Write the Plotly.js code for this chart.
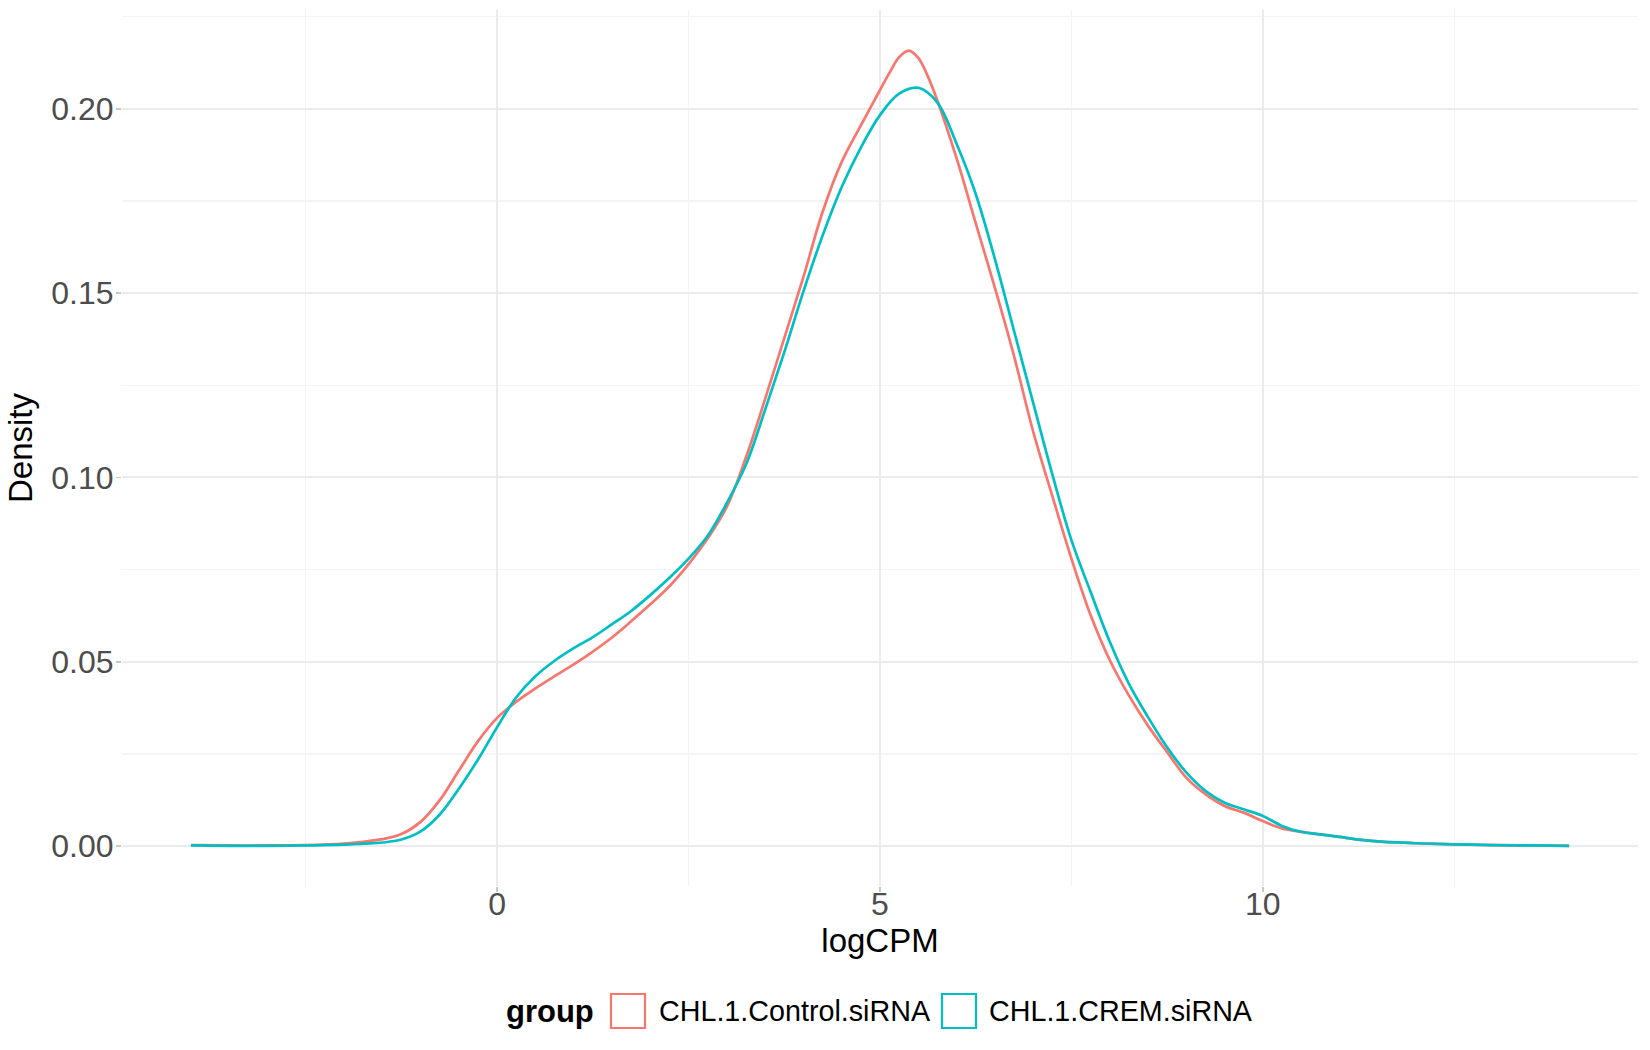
<!DOCTYPE html>
<html>
<head>
<meta charset="utf-8">
<script src="https://cdn.plot.ly/plotly-3.0.1.min.js"></script>
<style>
  body { margin: 0; background: #fff; }
  #chart { width: 1650px; height: 1050px; }
</style>
</head>
<body>
<div id="chart"></div>
<script>
/*** DATA ***/
// group names and the default ggplot hue pair
var groupNames = ['CHL.1.Control.siRNA', 'CHL.1.CREM.siRNA'];
var groupColors = ['#F8766D', '#00BFC4'];

// density of logCPM for the control group
var controlX = [-4.0, -3.5, -3.0, -2.5, -2.0, -1.75, -1.5, -1.25, -1.0, -0.75, -0.5, -0.25,
    0.0, 0.25, 0.5, 0.75, 1.0, 1.25, 1.5, 1.75, 2.0, 2.25, 2.5, 2.75, 3.0, 3.25, 3.5, 3.75,
    4.0, 4.25, 4.5, 4.75, 5.0, 5.125, 5.25, 5.375, 5.5, 5.625, 5.75, 6.0, 6.25, 6.5, 6.75, 7.0, 7.25, 7.5,
    7.75, 8.0, 8.25, 8.5, 8.75, 9.0, 9.25, 9.5, 9.75, 10.0, 10.25, 10.5, 10.75, 11.0, 11.25,
    11.5, 12.0, 12.5, 13.0, 13.5, 14.0];
var controlY = [0.0003, 0.0002, 0.0002, 0.0003, 0.0007, 0.0012, 0.0019, 0.0033, 0.0066, 0.0125, 0.0205, 0.0285,
    0.0348, 0.0392, 0.0428, 0.0461, 0.0493, 0.0528, 0.0566, 0.0610, 0.0656, 0.0705, 0.0765, 0.0835, 0.0921, 0.1055, 0.1213, 0.1378,
    0.1544, 0.1720, 0.1856, 0.1955, 0.2051, 0.2098, 0.2140, 0.2158, 0.2138, 0.2088, 0.2022, 0.1866, 0.1690, 0.1515, 0.1330, 0.1125, 0.0950, 0.0780,
    0.0627, 0.0505, 0.0409, 0.0327, 0.0255, 0.0186, 0.0141, 0.0109, 0.0091, 0.0068, 0.0048, 0.0039, 0.0032, 0.0025, 0.0018,
    0.0013, 0.0008, 0.0005, 0.0003, 0.0002, 0.0001];

// density of logCPM for the CREM knockdown group
var cremX = [-4.0, -3.5, -3.0, -2.5, -2.0, -1.75, -1.5, -1.25, -1.0, -0.75, -0.5, -0.25,
    0.0, 0.25, 0.5, 0.75, 1.0, 1.25, 1.5, 1.75, 2.0, 2.25, 2.5, 2.75, 3.0, 3.25, 3.5, 3.75,
    4.0, 4.25, 4.5, 4.75, 5.0, 5.25, 5.5, 5.75, 6.0, 6.25, 6.5, 6.75, 7.0, 7.25, 7.5,
    7.75, 8.0, 8.25, 8.5, 8.75, 9.0, 9.25, 9.5, 9.75, 10.0, 10.25, 10.5, 10.75, 11.0, 11.25,
    11.5, 12.0, 12.5, 13.0, 13.5, 14.0];
var cremY = [0.0002, 0.0001, 0.0001, 0.0002, 0.0004, 0.0007, 0.0010, 0.0018, 0.0040, 0.0086, 0.0156, 0.0235,
    0.0323, 0.0404, 0.0461, 0.0503, 0.0537, 0.0567, 0.0602, 0.0638, 0.0681, 0.0728, 0.0780, 0.0842, 0.0931, 0.1035, 0.1184, 0.1340,
    0.1505, 0.1656, 0.1788, 0.1895, 0.1983, 0.2041, 0.2057, 0.2017, 0.1905, 0.1769, 0.1593, 0.1398, 0.1203, 0.1009, 0.0830,
    0.0690, 0.0555, 0.0441, 0.0350, 0.0268, 0.0200, 0.0150, 0.0118, 0.0100, 0.0082, 0.0055, 0.0039, 0.0032, 0.0025, 0.0018,
    0.0013, 0.0008, 0.0005, 0.0003, 0.0002, 0.0001];

// axis ticks
var xTicks = [0, 5, 10];
var yTicks = [0, 0.05, 0.10, 0.15, 0.20];
var yTickText = ['0.00', '0.05', '0.10', '0.15', '0.20'];

/*** TRACES ***/
function density_trace(x, y, idx) {
    return {
        x: x,
        y: y,
        type: 'scatter',
        mode: 'lines',
        name: groupNames[idx],
        showlegend: false,
        hoverinfo: 'skip',
        line: { color: groupColors[idx], width: 2.7, shape: 'spline', smoothing: 1 }
    };
}

var data = [
    density_trace(controlX, controlY, 0),
    density_trace(cremX, cremY, 1)
];

/*** LEGEND ***/
// plotly caps legend marker size, so the ggplot-style open key boxes are drawn by hand
var plotLeft = 122, plotRight = 1638, plotTop = 10, plotBottom = 886;
function px_x(px) { return (px - plotLeft) / (plotRight - plotLeft); }
function px_y(py) { return (plotBottom - py) / (plotBottom - plotTop); }

var legendMid = 1011;
var keyBoxLeft = [611, 942];
var keyTextLeft = [657, 987];
var keySize = 34;

var shapes = [];
var annotations = [{
    text: '<b>group</b>',
    xref: 'paper', yref: 'paper',
    x: px_x(504), y: px_y(legendMid),
    xanchor: 'left', yanchor: 'middle',
    showarrow: false,
    font: { size: 31, color: '#000000' }
}];

groupNames.forEach(function (name, i) {
    shapes.push({
        type: 'rect',
        xref: 'paper', yref: 'paper',
        x0: px_x(keyBoxLeft[i]), x1: px_x(keyBoxLeft[i] + keySize),
        y0: px_y(legendMid + keySize / 2), y1: px_y(legendMid - keySize / 2),
        line: { color: groupColors[i], width: 2.2 },
        fillcolor: 'rgba(0,0,0,0)'
    });
    annotations.push({
        text: name,
        xref: 'paper', yref: 'paper',
        x: px_x(keyTextLeft[i]), y: px_y(legendMid),
        xanchor: 'left', yanchor: 'middle',
        showarrow: false,
        font: { size: 28.7, color: '#000000' }
    });
});

/*** LAYOUT ***/
var gridMajor = '#EBEBEB';
var gridMinor = '#F4F4F4';

var layout = {
    width: 1650,
    height: 1050,
    margin: { l: plotLeft, r: 1650 - plotRight, t: plotTop, b: 1050 - plotBottom, pad: 0 },
    paper_bgcolor: '#ffffff',
    plot_bgcolor: '#ffffff',
    font: { family: 'Liberation Sans, Arial, sans-serif', size: 30, color: '#000000' },
    showlegend: false,
    shapes: shapes,
    annotations: annotations,
    xaxis: {
        range: [-4.9, 14.9],
        tickvals: xTicks,
        ticktext: xTicks.map(String),
        showgrid: true,
        gridcolor: gridMajor,
        gridwidth: 2,
        zeroline: false,
        showline: false,
        ticks: 'outside',
        ticklen: 5,
        tickwidth: 1.5,
        tickcolor: '#C8C8C8',
        ticklabelstandoff: -15,
        tickfont: { size: 32, color: '#4D4D4D' },
        minor: { tick0: 0, dtick: 2.5, showgrid: true, gridcolor: gridMinor, gridwidth: 1.3, ticks: '' },
        title: { text: 'logCPM', font: { size: 33, color: '#000000' }, standoff: 0 },
        automargin: false
    },
    yaxis: {
        range: [-0.0108, 0.2268],
        tickvals: yTicks,
        ticktext: yTickText,
        showgrid: true,
        gridcolor: gridMajor,
        gridwidth: 2,
        zeroline: false,
        showline: false,
        ticks: 'outside',
        ticklen: 5,
        tickwidth: 1.5,
        tickcolor: '#C8C8C8',
        ticklabelstandoff: -4,
        tickfont: { size: 32, color: '#4D4D4D' },
        minor: { tick0: 0.025, dtick: 0.05, showgrid: true, gridcolor: gridMinor, gridwidth: 1.3, ticks: '' },
        title: { text: 'Density', font: { size: 33, color: '#000000' }, standoff: 8 },
        automargin: false
    }
};

Plotly.newPlot('chart', data, layout, { displayModeBar: false, staticPlot: true });
</script>
</body>
</html>
